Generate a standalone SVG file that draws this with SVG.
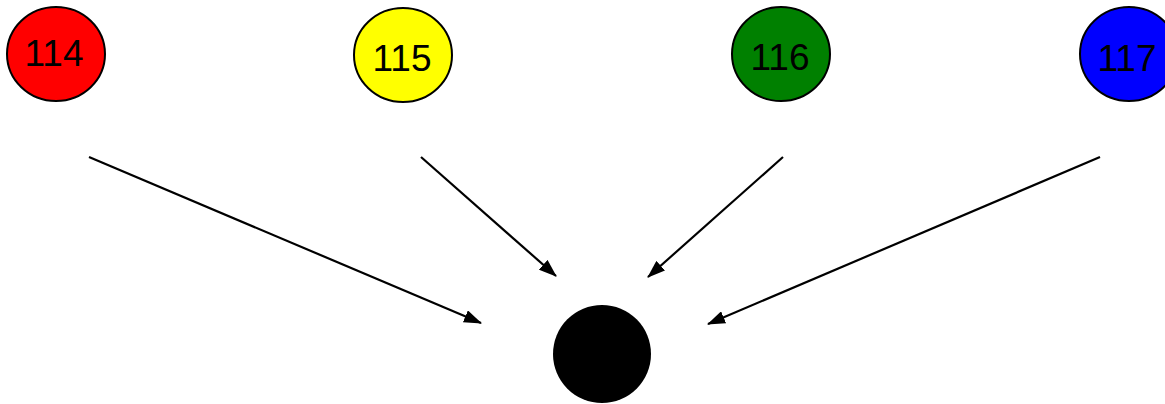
<svg xmlns="http://www.w3.org/2000/svg" width="1165" height="404" viewBox="0 0 1165 404">
  <style>
    .node { stroke: #000; stroke-width: 2; }
    .label { font-family: "Liberation Sans", Arial, sans-serif; font-size: 37px; fill: #000; text-anchor: middle; }
    .edge { stroke: #000; stroke-width: 2.2; fill: none; marker-end: url(#arrow); }
  </style>
  <defs>
    <marker id="arrow" markerWidth="18" markerHeight="13" refX="17" refY="6.5" orient="auto" markerUnits="userSpaceOnUse">
      <path d="M0,0 L18,6.5 L0,13 Z" fill="#000"/>
    </marker>
  </defs>
  <rect width="1165" height="404" fill="#fff"/>

  <g id="connectors">
    <line class="edge" x1="89" y1="157" x2="481" y2="323"/>
    <line class="edge" x1="421" y1="157" x2="556" y2="276"/>
    <line class="edge" x1="783" y1="157" x2="648" y2="277"/>
    <line class="edge" x1="1100" y1="157" x2="708" y2="324"/>
  </g>

  <g id="n114">
    <ellipse class="node" cx="56" cy="54" rx="49" ry="47" fill="#ff0000"/>
    <text class="label" x="54" y="66">114</text>
  </g>
  <g id="n115">
    <ellipse class="node" cx="403" cy="55" rx="49" ry="47" fill="#ffff00"/>
    <text class="label" x="402" y="71">115</text>
  </g>
  <g id="n116">
    <ellipse class="node" cx="781" cy="54" rx="49" ry="47" fill="#008000"/>
    <text class="label" x="780" y="70">116</text>
  </g>
  <g id="n117">
    <ellipse class="node" cx="1129" cy="54" rx="49" ry="47" fill="#0000ff"/>
    <text class="label" x="1127" y="71">117</text>
  </g>
  <g id="sink">
    <circle cx="602" cy="354" r="49" fill="#000"/>
  </g>
</svg>
